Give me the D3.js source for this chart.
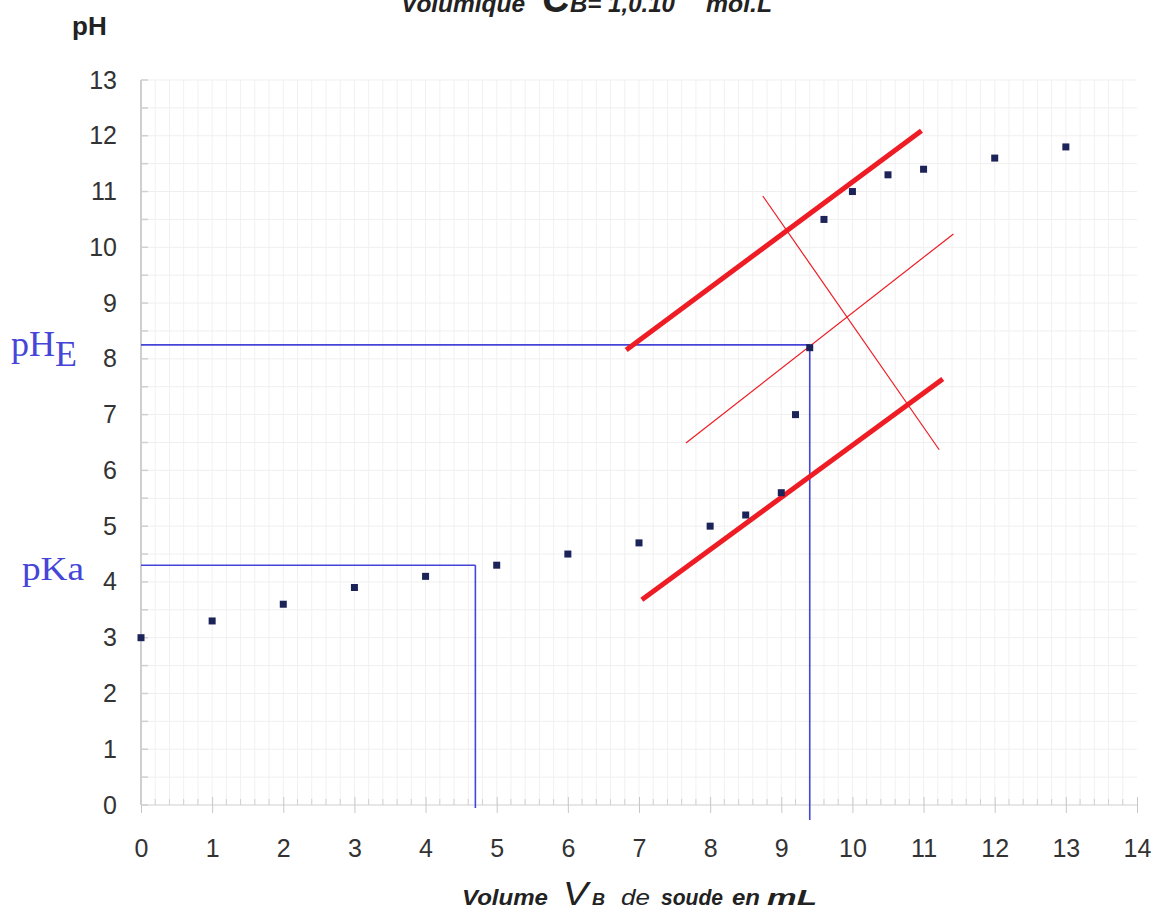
<!DOCTYPE html>
<html>
<head>
<meta charset="utf-8">
<script src="https://cdn.jsdelivr.net/npm/d3@7"></script>
<style>
  html, body { margin: 0; padding: 0; background: #fff; }
  svg { display: block; }
</style>
</head>
<body>
<svg id="chart" width="1158" height="912"></svg>
<script>
// ---- data ----
const volumes = [0, 1, 2, 3, 4, 5, 6, 7, 8, 8.5, 9, 9.2, 9.4, 9.6, 10, 10.5, 11, 12, 13];
const phValues = [3.0, 3.3, 3.6, 3.9, 4.1, 4.3, 4.5, 4.7, 5.0, 5.2, 5.6, 7.0, 8.2, 10.5, 11.0, 11.3, 11.4, 11.6, 11.8];
const xTicks = [0,1,2,3,4,5,6,7,8,9,10,11,12,13,14];
const yTicks = [0,1,2,3,4,5,6,7,8,9,10,11,12,13];
// tangent construction (parallel tangents method), in data units [x1,y1,x2,y2]
const tangentUpper = [6.82, 8.16, 10.97, 12.09];
const tangentLower = [7.04, 3.68, 11.27, 7.64];
const medianLine = [7.66, 6.49, 11.42, 10.24];
const perpLine = [8.74, 10.92, 11.22, 6.37];
// equivalence and half-equivalence readings
const equivVolume = 9.4, equivPH = 8.25;
const halfVolume = 4.7, pKa = 4.3;

// ---- scales ----
const x = d3.scaleLinear().domain([0, 14]).range([141, 1137]);
const y = d3.scaleLinear().domain([0, 13]).range([805, 80]);

const svg = d3.select("#chart");
const sans = "'Liberation Sans', Arial, Helvetica, sans-serif";
const serif = "'Liberation Serif', 'Times New Roman', serif";

// ---- grid ----
const grid = svg.append("g");
const xMinor = d3.range(0, 70).map(i => i * 0.2).filter(v => v > 0.01);
grid.selectAll("line.gx").data(xMinor).join("line")
  .attr("x1", d => x(d)).attr("x2", d => x(d))
  .attr("y1", y(13)).attr("y2", y(0))
  .attr("stroke", "#f1f1f1").attr("stroke-width", 1);
const yMinor = d3.range(1, 27).map(i => i * 0.5);
grid.selectAll("line.gy").data(yMinor).join("line")
  .attr("x1", x(0)).attr("x2", x(14))
  .attr("y1", d => y(d)).attr("y2", d => y(d))
  .attr("stroke", "#efefef").attr("stroke-width", 1);

// ---- axes ----
const xAxis = d3.axisBottom(x).tickValues(xTicks).tickSize(8).tickPadding(26);
const gx = svg.append("g").attr("transform", `translate(0,${y(0)})`).call(xAxis);
gx.select(".domain").attr("stroke", "#cfcfcf").attr("d", `M${x(0)},0H${x(14)}`);
gx.selectAll(".tick line").attr("stroke", "#c8c8c8").attr("y1", -8).attr("y2", 8);
gx.selectAll(".tick text").attr("font-family", sans).attr("font-size", 25).attr("fill", "#333");
// minor x ticks
svg.append("g").selectAll("line").data(xMinor.filter(v => Math.abs(v - Math.round(v)) > 0.01)).join("line")
  .attr("x1", d => x(d)).attr("x2", d => x(d))
  .attr("y1", y(0) - 6).attr("y2", y(0))
  .attr("stroke", "#d0d0d0");

const yAxis = d3.axisLeft(y).tickValues(yTicks).tickSize(0).tickPadding(24);
const gy = svg.append("g").attr("transform", `translate(${x(0)},0)`).call(yAxis);
gy.select(".domain").attr("stroke", "#cfcfcf").attr("stroke-width", 2).attr("d", `M0,${y(0)}V${y(13)}`);
gy.selectAll(".tick text").attr("font-family", sans).attr("font-size", 25).attr("fill", "#333");
// y ticks (inside, every 0.5)
svg.append("g").selectAll("line").data([0].concat(yMinor)).join("line")
  .attr("x1", x(0)).attr("x2", x(0) + 7)
  .attr("y1", d => y(d)).attr("y2", d => y(d))
  .attr("stroke", "#d0d0d0").attr("stroke-width", 1.5);

// ---- blue reading lines ----
const blue = "#4545d8";
const bl = svg.append("g").attr("stroke", blue).attr("stroke-width", 1.6).attr("fill", "none");
bl.append("line").attr("x1", x(0)).attr("x2", x(equivVolume)).attr("y1", y(equivPH)).attr("y2", y(equivPH));
bl.append("line").attr("x1", x(equivVolume)).attr("x2", x(equivVolume)).attr("y1", y(equivPH)).attr("y2", y(0) + 15);
bl.append("line").attr("x1", x(0)).attr("x2", x(halfVolume)).attr("y1", y(pKa)).attr("y2", y(pKa));
bl.append("line").attr("x1", x(halfVolume)).attr("x2", x(halfVolume)).attr("y1", y(pKa)).attr("y2", y(0) + 3);

// ---- red tangent construction ----
const red = "#ee1c24";
const rl = svg.append("g").attr("stroke", red).attr("fill", "none").attr("stroke-linecap", "butt");
[[tangentUpper, 5], [tangentLower, 5], [medianLine, 1.2], [perpLine, 1.2]].forEach(([l, w]) => {
  rl.append("line").attr("x1", x(l[0])).attr("y1", y(l[1])).attr("x2", x(l[2])).attr("y2", y(l[3]))
    .attr("stroke-width", w);
});

// ---- data points ----
const pts = volumes.map((v, i) => ({ v, ph: phValues[i] }));
svg.append("g").selectAll("rect").data(pts).join("rect")
  .attr("x", d => x(d.v) - 3.5).attr("y", d => y(d.ph) - 3.5)
  .attr("width", 7).attr("height", 7)
  .attr("fill", "#1b2358");

// ---- labels ----
svg.append("text").attr("x", 72).attr("y", 35)
  .attr("font-family", sans).attr("font-size", 26).attr("font-weight", "bold").attr("fill", "#222")
  .text("pH");

const phe = svg.append("text").attr("x", 11).attr("y", 356)
  .attr("font-family", serif).attr("font-size", 36).attr("fill", blue);
phe.append("tspan").text("pH");
phe.append("tspan").attr("dy", 10).text("E");

svg.append("text").attr("x", 22).attr("y", 580)
  .attr("font-family", serif).attr("font-size", 34).attr("fill", blue)
  .attr("textLength", 62).attr("lengthAdjust", "spacingAndGlyphs")
  .text("pKa");

// helper for stretched tspans
function piece(parent, txt, x0, w, size, bold, dy) {
  const t = parent.append("tspan").attr("x", x0).attr("font-size", size)
    .attr("font-weight", bold ? "bold" : "normal")
    .attr("textLength", w).attr("lengthAdjust", "spacingAndGlyphs").text(txt);
  if (dy) t.attr("dy", dy);
  return t;
}

// x axis title
const xt = svg.append("text").attr("y", 905)
  .attr("font-family", sans).attr("font-style", "italic").attr("fill", "#222");
piece(xt, "Volume", 462, 86, 22, true);
piece(xt, "V", 563, 25, 33, false);
piece(xt, "B", 592, 13, 16, true);
piece(xt, "de", 621, 29, 22, false);
piece(xt, "soude", 661, 62, 22, true);
piece(xt, "en", 732, 28, 22, true);
piece(xt, "mL", 767, 50, 22, true);

// title (cut by the top edge, as in the source image)
const tt = svg.append("text").attr("y", 12)
  .attr("font-family", sans).attr("font-style", "italic").attr("fill", "#222");
piece(tt, "Volumique", 401, 124, 24, true);
piece(tt, "C", 542, 28, 40, true);
piece(tt, "B= 1,0.10", 570, 105, 23, true);
piece(tt, "-1", 680, 18, 16, true, -14);
piece(tt, "mol.L", 706, 66, 24, true, 14);
piece(tt, "-1", 775, 18, 16, true, -14);
</script>
</body>
</html>
